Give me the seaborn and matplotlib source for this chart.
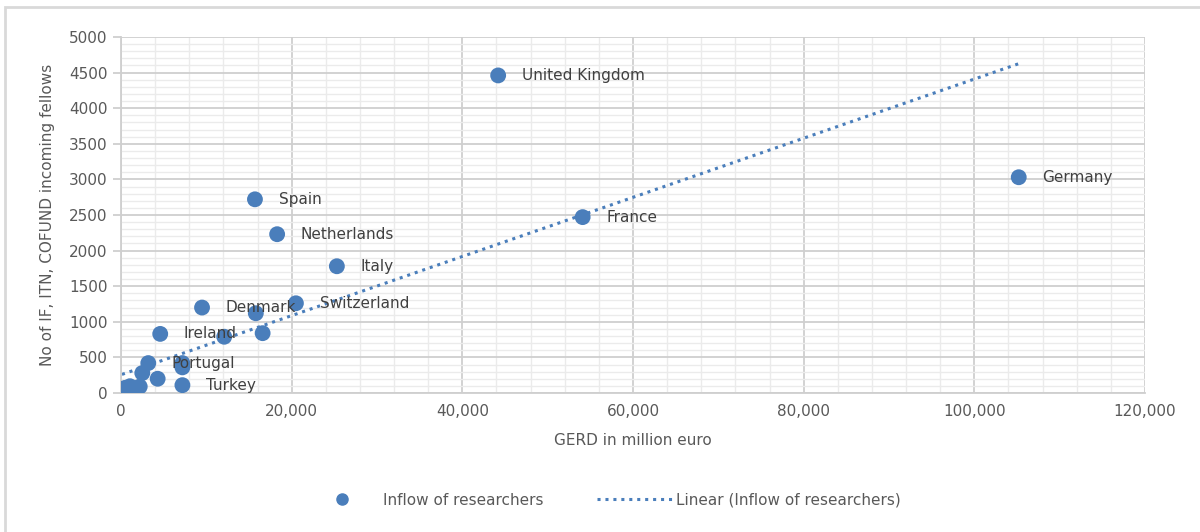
import numpy as np
import pandas as pd
import matplotlib
matplotlib.use("Agg")
import matplotlib.pyplot as plt
import seaborn as sns
from matplotlib.ticker import FuncFormatter, MultipleLocator
from matplotlib.lines import Line2D
from matplotlib.patches import Rectangle

# GERD (million euro) vs incoming fellows
countries = ["United Kingdom", "Germany", "France", "Spain", "Netherlands", "Italy",
             "Switzerland", "Denmark", "", "", "Ireland", "", "", "Portugal", "Turkey",
             "", "", "", "", "", "", "", "", "", "", "",
             "", "", "", "", "", "", "", "", "", ""]
gerd = [44200, 105200, 54100, 15700, 18300, 25300,
        20500, 9500, 15800, 16600, 4600, 12100, 7200, 3200, 7200,
        7200, 4300, 2500, 2200, 1050, 120, 470, 1400, 200, 900, 600,
        150, 250, 350, 500, 650, 800, 1000, 1200, 300, 450]
fellows = [4460, 3030, 2470, 2720, 2230, 1780,
           1260, 1200, 1120, 840, 830, 790, 360, 420, 110,
           420, 200, 280, 90, 95, 40, 5, 30, 10, 60, 70,
           5, 15, 25, 40, 20, 50, 35, 60, 10, 70]

df = pd.DataFrame({"country": countries, "gerd": gerd, "fellows": fellows})

blue = "#4a7ebb"
sns.set_style("white")
plt.rcParams["font.family"] = ["DejaVu Sans"]

fig = plt.figure(figsize=(12, 5.32), dpi=100)
ax = fig.add_axes([0.1008, 0.2613, 0.8534, 0.6692])

sns.regplot(data=df, x="gerd", y="fellows", ax=ax, ci=None, truncate=True,
            scatter_kws=dict(s=130, color=blue, alpha=1, edgecolor="none", zorder=3),
            line_kws=dict(color=blue, linestyle=(0, (1, 1.6)), linewidth=2.2, zorder=2))

for _, r in df[df["country"] != ""].iterrows():
    ax.annotate(r["country"], (r["gerd"], r["fellows"]), xytext=(17, 0),
                textcoords="offset points", va="center", ha="left",
                fontsize=11, color="#404040", zorder=4)

ax.set_xlim(0, 120000)
ax.set_ylim(0, 5000)
ax.xaxis.set_major_locator(MultipleLocator(20000))
ax.xaxis.set_minor_locator(MultipleLocator(4000))
ax.yaxis.set_major_locator(MultipleLocator(500))
ax.yaxis.set_minor_locator(MultipleLocator(100))
ax.xaxis.set_major_formatter(FuncFormatter(lambda v, p: f"{int(v):,}"))
ax.grid(which="major", color="#cfcfcf", linewidth=1.3)
ax.grid(which="minor", color="#ebebeb", linewidth=1.0)
ax.set_axisbelow(True)
ax.tick_params(axis="both", which="major", labelsize=11, labelcolor="#595959")
ax.tick_params(axis="y", which="major", length=6, color="#cfcfcf", width=1.3, left=True)
ax.tick_params(axis="x", which="major", length=0, pad=8)
ax.tick_params(which="minor", length=0)
for s in ["top", "right"]:
    ax.spines[s].set_visible(False)
for s in ["left", "bottom"]:
    ax.spines[s].set_color("#cfcfcf")
    ax.spines[s].set_linewidth(1.3)

ax.set_xlabel("GERD in million euro", fontsize=11, color="#595959", labelpad=10)
ax.set_ylabel("No of IF, ITN, COFUND incoming fellows", fontsize=11, color="#595959", labelpad=10)

handles = [Line2D([], [], marker="o", linestyle="none", color=blue, markersize=8),
           Line2D([], [], color=blue, linestyle=(0, (1, 1.6)), linewidth=2.2)]
fig.legend(handles, ["Inflow of researchers", "Linear (Inflow of researchers)"],
           loc="center", bbox_to_anchor=(0.502, 0.06), ncol=2, frameon=False,
           fontsize=11, labelcolor="#595959", handlelength=5, columnspacing=3.5,
           handletextpad=0.2)

fig.patches.append(Rectangle((0.004, -0.05), 1.1, 0.037 + 1.0, transform=fig.transFigure,
                             fill=False, edgecolor="#d9d9d9", linewidth=2))

fig.savefig("out.png", dpi=100)
